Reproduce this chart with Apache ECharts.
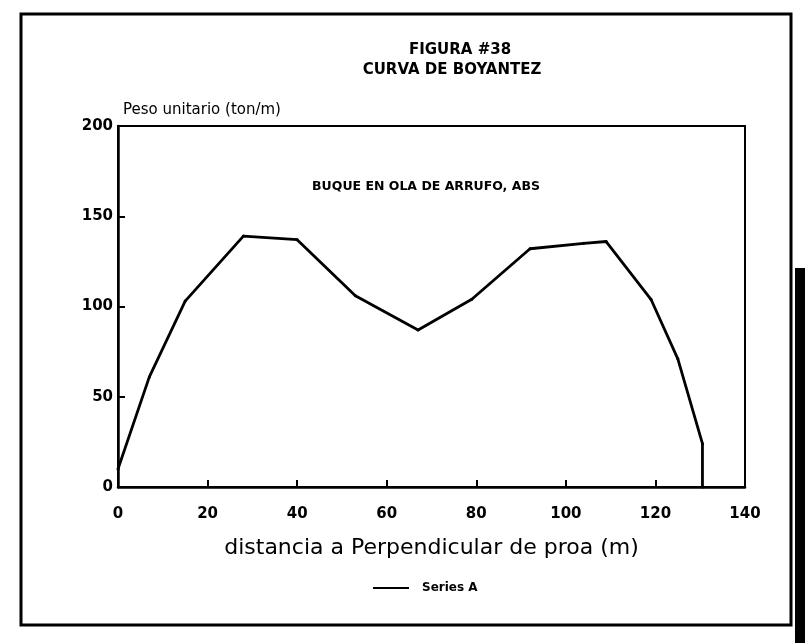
<!DOCTYPE html>
<html>
<head>
<meta charset="utf-8">
<script src="https://cdn.jsdelivr.net/npm/echarts@6/dist/echarts.min.js"></script>
<style>
  html, body { margin: 0; padding: 0; background: #fff; }
  #chart { width: 805px; height: 643px; }
</style>
</head>
<body>
<div id="chart"></div>
<script>
// distancia a Perpendicular de proa (m) vs peso unitario (ton/m)
const distancia = [0, 7, 15, 28, 40, 53, 67, 79, 92, 104, 109, 119, 125, 130.5, 130.5];
const pesoUnitario = [10, 61, 103, 139, 137, 106, 87, 104, 132, 135, 136, 104, 71, 24, 0];
const xTicks = [0, 20, 40, 60, 80, 100, 120, 140];
const yTicks = [0, 50, 100, 150, 200];

const font = '"DejaVu Sans", "Liberation Sans", Arial, sans-serif';

const chart = echarts.init(document.getElementById('chart'));

chart.setOption({
  backgroundColor: '#fff',
  animation: false,
  title: [
    {
      text: 'FIGURA #38',
      left: 455, top: 38, textAlign: 'center',
      textStyle: { fontFamily: font, fontSize: 15, fontWeight: 'bold', color: '#000' }
    },
    {
      text: 'CURVA DE BOYANTEZ',
      left: 447, top: 58, textAlign: 'center',
      textStyle: { fontFamily: font, fontSize: 15, fontWeight: 'bold', color: '#000' }
    },
    {
      text: 'BUQUE EN OLA DE ARRUFO, ABS',
      left: 421, top: 175, textAlign: 'center',
      textStyle: { fontFamily: font, fontSize: 12.5, fontWeight: 'bold', color: '#000' }
    }
  ],
  legend: {
    top: 577, left: 368,
    itemWidth: 36, itemHeight: 2, itemGap: 12,
    icon: 'rect',
    textStyle: { fontFamily: font, fontSize: 12, fontWeight: 'bold', color: '#000', padding: [0, 0, 0, 8] },
    data: ['Series A']
  },
  grid: {
    left: 118, right: 60, top: 126, bottom: 156,
    show: true, borderColor: '#000', borderWidth: 2, backgroundColor: 'transparent'
  },
  xAxis: {
    type: 'value', min: 0, max: 140, interval: 20,
    name: 'distancia a Perpendicular de proa (m)',
    nameLocation: 'middle', nameGap: 50,
    nameTextStyle: { fontFamily: font, fontSize: 22, color: '#000' },
    axisLine: { show: true, lineStyle: { color: '#000', width: 2.5 } },
    axisTick: { show: true, inside: true, length: 7, lineStyle: { color: '#000', width: 2 } },
    axisLabel: {
      fontFamily: font, fontSize: 15, fontWeight: 'bold', color: '#000', margin: 20,
      formatter: v => xTicks.includes(v) ? String(v) : ''
    },
    splitLine: { show: false }
  },
  yAxis: {
    type: 'value', min: 0, max: 200, interval: 50,
    name: 'Peso unitario (ton/m)',
    nameLocation: 'end', nameGap: 8,
    nameTextStyle: { fontFamily: font, fontSize: 15, color: '#000', align: 'left', padding: [0, 0, 0, 5] },
    axisLine: { show: true, lineStyle: { color: '#000', width: 2.5 } },
    axisTick: { show: true, inside: true, length: 7, lineStyle: { color: '#000', width: 2 } },
    axisLabel: {
      fontFamily: font, fontSize: 15, fontWeight: 'bold', color: '#000', margin: 5,
      formatter: v => yTicks.includes(v) ? String(v) : ''
    },
    splitLine: { show: false }
  },
  series: [{
    name: 'Series A',
    type: 'line',
    data: distancia.map((x, i) => [x, pesoUnitario[i]]),
    symbol: 'circle', symbolSize: 3, showSymbol: true,
    itemStyle: { color: '#000' },
    lineStyle: { color: '#000', width: 2.8 }
  }],
  graphic: [
    {
      type: 'rect', silent: true,
      shape: { x: 21, y: 14, width: 770, height: 611 },
      style: { fill: 'none', stroke: '#000', lineWidth: 3 }
    },
    {
      type: 'rect', silent: true,
      shape: { x: 795, y: 268, width: 10, height: 375 },
      style: { fill: '#000' }
    }
  ]
});
</script>
</body>
</html>
